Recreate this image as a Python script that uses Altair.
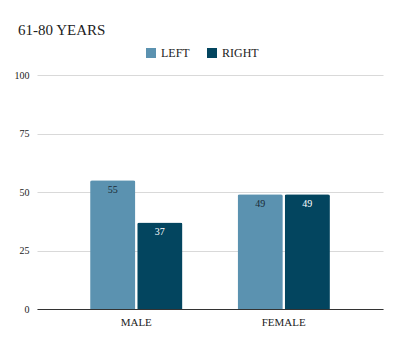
import altair as alt
import pandas as pd

categories = ["MALE", "MALE", "FEMALE", "FEMALE"]
sides = ["LEFT", "RIGHT", "LEFT", "RIGHT"]
values = [55, 37, 49, 49]

df = pd.DataFrame({"cat": categories, "side": sides, "value": values})

FONT = "'Liberation Serif', 'DejaVu Serif', serif"
x_enc = alt.X("cat:N", sort=["MALE", "FEMALE"], title=None,
              scale=alt.Scale(paddingInner=0.374, paddingOuter=0.36),
              axis=alt.Axis(labelAngle=0, ticks=False, domainColor="#333333",
                            labelFont=FONT, labelFontSize=11, labelColor="#222222",
                            labelPadding=7))
xo = alt.XOffset("side:N", sort=["LEFT", "RIGHT"],
                 scale=alt.Scale(paddingInner=0.04))
y_enc = alt.Y("value:Q", title=None,
              scale=alt.Scale(domain=[0, 100]),
              axis=alt.Axis(values=[0, 25, 50, 75, 100], ticks=False, domain=False,
                            gridColor="#d9d9d9", labelFont=FONT, labelFontSize=10,
                            labelColor="#222222", labelPadding=8))

bars = alt.Chart(df).mark_bar(cornerRadiusTopLeft=2, cornerRadiusTopRight=2).encode(
    x=x_enc, xOffset=xo, y=y_enc,
    color=alt.Color("side:N", sort=["LEFT", "RIGHT"],
                    scale=alt.Scale(domain=["LEFT", "RIGHT"], range=["#5b92b0", "#03455f"]),
                    legend=alt.Legend(title=None, orient="none", legendX=108, legendY=-28,
                                      direction="horizontal", symbolType="square",
                                      symbolSize=100, symbolStrokeWidth=0,
                                      labelFont=FONT, labelFontSize=12, labelColor="#222222",
                                      columnPadding=16, symbolOpacity=1)),
)

labels = alt.Chart(df).mark_text(baseline="top", dy=5, font=FONT, fontSize=10).encode(
    x=alt.X("cat:N", sort=["MALE", "FEMALE"]), xOffset=xo, y="value:Q",
    text="value:Q",
    color=alt.condition(alt.datum.side == "LEFT", alt.value("#1a2a35"), alt.value("#ffffff")),
)

chart = (bars + labels).properties(
    width=346, height=234,
    title=alt.TitleParams("61-80 YEARS", anchor="start", font=FONT, fontSize=15,
                          fontWeight="normal", color="#222222", dx=4, offset=9),
    padding={"left": 37, "top": 75, "right": 17, "bottom": 34},
    autosize=alt.AutoSizeParams(type="none"),
).configure(background="white").configure_view(strokeWidth=0)

chart.save("out.html", embed_options={"renderer": "svg", "actions": False})
